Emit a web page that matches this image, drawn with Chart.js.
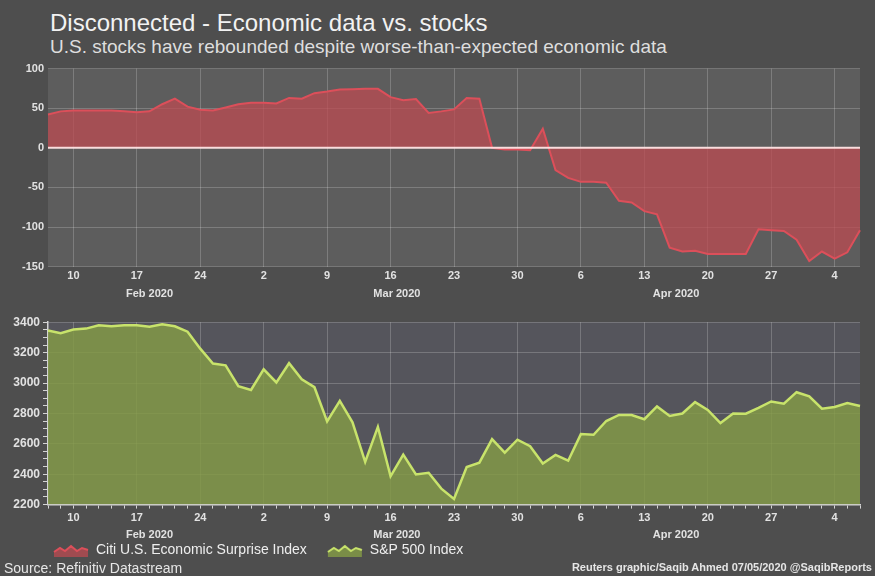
<!DOCTYPE html>
<html><head><meta charset="utf-8">
<script src="https://cdn.jsdelivr.net/npm/chart.js@4.4.0/dist/chart.umd.min.js"></script>
<style>
html,body{margin:0;padding:0;background:#4e4e4e;width:875px;height:576px;overflow:hidden;font-family:"Liberation Sans",Arial,sans-serif;}
.t{position:absolute;white-space:nowrap;z-index:2;}
#title{left:50px;top:11px;font-size:24px;line-height:24px;color:#f2f2f2;}
#sub{left:50px;top:37px;font-size:19px;line-height:19px;color:#dedede;}
#src{left:4px;top:561px;font-size:14px;line-height:14px;color:#e6e6e6;}
#cred{right:3px;top:562px;font-size:11px;line-height:11px;font-weight:bold;color:#e6e6e6;}
#w1{position:absolute;left:0;top:58px;width:875px;height:245px;}
#w2{position:absolute;left:0;top:312px;width:875px;height:275px;}
</style></head><body>
<div class="t" id="title">Disconnected - Economic data vs. stocks</div>
<div class="t" id="sub">U.S. stocks have rebounded despite worse-than-expected economic data</div>
<div id="w1"><canvas id="c1"></canvas></div>
<div id="w2"><canvas id="c2"></canvas></div>
<div class="t" id="src">Source: Refinitiv Datastream</div>
<div class="t" id="cred">Reuters graphic/Saqib Ahmed 07/05/2020 @SaqibReports</div>
<script>
// ---------- DATA ----------
const dates = [
 "2020-02-06","2020-02-07",
 "2020-02-10","2020-02-11","2020-02-12","2020-02-13","2020-02-14",
 "2020-02-17","2020-02-18","2020-02-19","2020-02-20","2020-02-21",
 "2020-02-24","2020-02-25","2020-02-26","2020-02-27","2020-02-28",
 "2020-03-02","2020-03-03","2020-03-04","2020-03-05","2020-03-06",
 "2020-03-09","2020-03-10","2020-03-11","2020-03-12","2020-03-13",
 "2020-03-16","2020-03-17","2020-03-18","2020-03-19","2020-03-20",
 "2020-03-23","2020-03-24","2020-03-25","2020-03-26","2020-03-27",
 "2020-03-30","2020-03-31","2020-04-01","2020-04-02","2020-04-03",
 "2020-04-06","2020-04-07","2020-04-08","2020-04-09","2020-04-10",
 "2020-04-13","2020-04-14","2020-04-15","2020-04-16","2020-04-17",
 "2020-04-20","2020-04-21","2020-04-22","2020-04-23","2020-04-24",
 "2020-04-27","2020-04-28","2020-04-29","2020-04-30","2020-05-01",
 "2020-05-04","2020-05-05","2020-05-06"
];
const citiValues = [
 42, 46,
 47, 47, 47, 47, 46,
 45, 46, 55, 62, 52,
 48, 47, 51, 55, 57,
 57, 56, 63, 62, 69,
 71, 73.5, 74, 74.5, 74.5,
 64, 60, 61.5, 44, 46,
 48.5, 63, 62, 0, -2,
 -2, -3, 24, -28, -38,
 -43, -43, -44, -67, -69,
 -80, -84, -126, -131, -130,
 -134, -134, -134, -134, -103,
 -104, -105, -116, -143, -131,
 -140, -132, -104
];
const spxValues = [
 3345.78, 3327.71,
 3352.09, 3357.75, 3379.45, 3373.94, 3380.16,
 3380.16, 3370.29, 3386.15, 3373.23, 3337.75,
 3225.89, 3128.21, 3116.39, 2978.76, 2954.22,
 3090.23, 3003.37, 3130.12, 3023.94, 2972.37,
 2746.56, 2882.23, 2741.38, 2480.64, 2711.02,
 2386.13, 2529.19, 2398.10, 2409.39, 2304.92,
 2237.40, 2447.33, 2475.56, 2630.07, 2541.47,
 2626.65, 2584.59, 2470.50, 2526.90, 2488.65,
 2663.68, 2659.41, 2749.98, 2789.82, 2789.82,
 2761.63, 2846.06, 2783.36, 2799.55, 2874.56,
 2823.16, 2736.56, 2799.31, 2797.80, 2836.74,
 2878.48, 2863.39, 2939.51, 2912.43, 2830.71,
 2842.74, 2868.44, 2848.42
];
const seriesNames = ["Citi U.S. Economic Surprise Index", "S&P 500 Index"];
const monthLabels = ["Feb 2020", "Mar 2020", "Apr 2020"];
const monthKeys = ["2020-02", "2020-03", "2020-04"];
const citiRange = [-150, 100, 50];
const spxRange = [2200, 3400, 50, 200];

// ---------- helpers ----------
const FONT = '"Liberation Sans", Arial, sans-serif';
Chart.defaults.font.family = FONT;
const gridCol = 'rgba(255,255,255,0.2)';
const tickTxt = '#e2e2e2';
const dObj = s => new Date(s + 'T00:00:00Z');
const isMonday = i => i >= 0 && i < dates.length && dObj(dates[i]).getUTCDay() === 1;
const dayLabel = i => isMonday(i) ? String(dObj(dates[i]).getUTCDate()) : '';
const monthMid = monthKeys.map(k => {
  const idx = dates.map((d, i) => d.startsWith(k) ? i : -1).filter(i => i >= 0);
  return (idx[0] + idx[idx.length - 1]) / 2;
});

const plotBg = {
  id: 'plotBg',
  beforeDraw(chart, args, opts) {
    const { ctx, chartArea: a } = chart;
    ctx.save(); ctx.fillStyle = opts.color;
    ctx.fillRect(a.left, a.top, a.right - a.left, a.bottom - a.top);
    ctx.restore();
  }
};
const zeroLine = {
  id: 'zeroLine',
  afterDatasetsDraw(chart) {
    const { ctx, chartArea: a } = chart;
    const y = chart.scales.y.getPixelForValue(0);
    ctx.save(); ctx.strokeStyle = 'rgba(255,228,228,0.95)'; ctx.lineWidth = 2;
    ctx.beginPath(); ctx.moveTo(a.left, y); ctx.lineTo(a.right, y); ctx.stroke();
    ctx.restore();
  }
};

function monthAxis(pad) {
  return {
    type: 'linear', position: 'bottom', min: 0, max: dates.length - 1,
    grid: { display: false, drawTicks: false }, border: { display: false },
    afterBuildTicks: ax => { ax.ticks = monthMid.map(v => ({ value: v })); },
    ticks: { autoSkip: false, maxRotation: 0, padding: pad, color: tickTxt,
      font: { size: 11, weight: 'bold' },
      callback: (v, i) => monthLabels[i] }
  };
}

function swatch(fill, line) {
  const c = document.createElement('canvas'); c.width = 36; c.height = 14;
  const g = c.getContext('2d');
  const pts = [[1,9],[7,5],[12,8],[18,3],[24,8],[29,5],[35,7]];
  g.beginPath(); g.moveTo(1, 14);
  pts.forEach(p => g.lineTo(p[0], p[1]));
  g.lineTo(35, 14); g.closePath(); g.fillStyle = fill; g.fill();
  g.beginPath(); pts.forEach((p, i) => i ? g.lineTo(p[0], p[1]) : g.moveTo(p[0], p[1]));
  g.strokeStyle = line; g.lineWidth = 2; g.stroke();
  return c;
}
const redFill = 'rgba(188,75,82,0.75)', redLine = '#dc4f5a';
const grnFill = 'rgba(130,153,71,0.85)', grnLine = '#c8e36b';

// ---------- top chart ----------
new Chart(document.getElementById('c1'), {
  type: 'line',
  data: { labels: dates, datasets: [{
    label: seriesNames[0], data: citiValues, fill: 'origin',
    backgroundColor: redFill, borderColor: redLine, borderWidth: 2,
    pointRadius: 0, tension: 0
  }]},
  plugins: [plotBg, zeroLine],
  options: {
    responsive: true, maintainAspectRatio: false, animation: false,
    layout: { padding: { top: 9, right: 15, left: 0, bottom: 0 } },
    plugins: { legend: { display: false }, tooltip: { enabled: false }, plotBg: { color: '#5d5d5d' } },
    scales: {
      x: { type: 'category',
        grid: { color: c => isMonday(c.index) ? gridCol : 'transparent', drawTicks: false },
        border: { display: false },
        ticks: { autoSkip: false, maxRotation: 0, padding: 3, color: tickTxt,
          font: { size: 11, weight: 'bold' }, callback: (v, i) => dayLabel(i) } },
      x2: monthAxis(2),
      y: { min: citiRange[0], max: citiRange[1],
        afterFit: s => { s.width = 48; },
        grid: { color: gridCol, drawTicks: false }, border: { display: false },
        ticks: { stepSize: citiRange[2], padding: 4, color: tickTxt, font: { size: 11, weight: 'bold' } } }
    }
  }
});

// ---------- bottom chart ----------
const legendShift = {
  id: 'legendShift',
  afterLayout(chart) {
    const l = chart.legend; if (!l) return;
    const dy = 238 - (l.top + 20 + 7);
    l.top += dy; l.bottom += dy; l.left += 33; l.right += 33;
  }
};
new Chart(document.getElementById('c2'), {
  type: 'line',
  data: { labels: dates, datasets: [{
    label: seriesNames[1], data: spxValues, fill: 'start',
    backgroundColor: grnFill, borderColor: grnLine, borderWidth: 2.5,
    pointRadius: 0, tension: 0
  }]},
  plugins: [plotBg, legendShift],
  options: {
    responsive: true, maintainAspectRatio: false, animation: false,
    layout: { padding: { top: 10, right: 15, left: 0, bottom: 0 } },
    plugins: {
      tooltip: { enabled: false }, plotBg: { color: '#55555c' },
      legend: { display: true, position: 'bottom', align: 'start',
        labels: { usePointStyle: true, pointStyleWidth: 36, boxHeight: 14, padding: 20,
          color: '#eeeeee', font: { size: 14 },
          generateLabels: () => [
            { text: seriesNames[0], pointStyle: swatch(redFill, redLine), fillStyle: 'transparent', strokeStyle: 'transparent', lineWidth: 0, hidden: false, datasetIndex: 0, fontColor: '#eeeeee' },
            { text: seriesNames[1], pointStyle: swatch(grnFill, grnLine), fillStyle: 'transparent', strokeStyle: 'transparent', lineWidth: 0, hidden: false, datasetIndex: 0, fontColor: '#eeeeee' }
          ] },
        onClick: () => {} }
    },
    scales: {
      x: { type: 'category',
        grid: { color: c => isMonday(c.index) ? gridCol : 'transparent', tickColor: '#d4d4d4', tickLength: 4 },
        border: { display: true, color: '#d4d4d4', width: 1.5 },
        ticks: { autoSkip: false, maxRotation: 0, padding: 3, color: tickTxt,
          font: { size: 11, weight: 'bold' }, callback: (v, i) => dayLabel(i) } },
      x2: monthAxis(1),
      y: { min: spxRange[0], max: spxRange[1],
        afterFit: s => { s.width = 48; },
        grid: { color: c => (c.tick.value % spxRange[3] === 0) ? gridCol : 'transparent', tickColor: '#d4d4d4', tickLength: 5 },
        border: { display: true, color: '#d4d4d4', width: 1.5 },
        ticks: { stepSize: spxRange[2], padding: 3, color: tickTxt, autoSkip: false,
          font: { size: 12, weight: 'bold' },
          callback: v => (v % spxRange[3] === 0) ? String(v) : '' } }
    }
  }
});
</script>
</body></html>
